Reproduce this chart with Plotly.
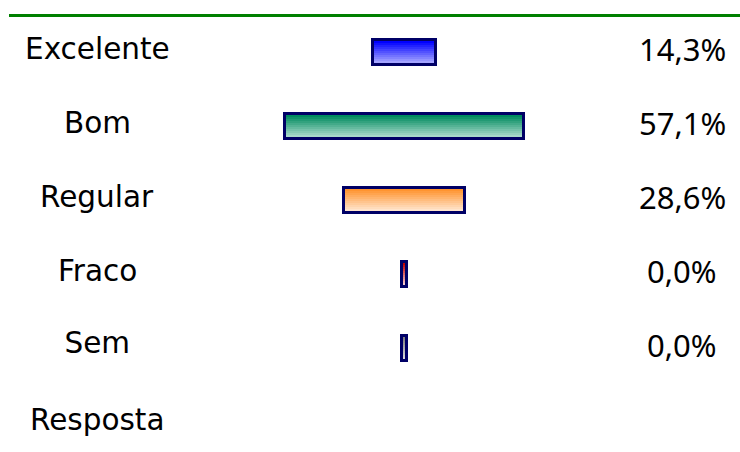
import plotly.graph_objects as go

categories = ["Excelente", "Bom", "Regular", "Fraco", "Sem Resposta"]
values = [14.3, 57.1, 28.6, 0.0, 0.0]
top_colors = ["#0000FF", "#008A5E", "#FF9430", "#C00000", "#808080"]
bottom_colors = ["#A4A4FF", "#A8DACA", "#FFE4CC", "#F4C8C8", "#D8D8D8"]

def hex2rgb(h):
    h = h.lstrip("#")
    return tuple(int(h[i:i + 2], 16) for i in (0, 2, 4))

def mix(c1, c2, t):
    a, b = hex2rgb(c1), hex2rgb(c2)
    return "rgb(%d,%d,%d)" % tuple(round(a[i] + (b[i] - a[i]) * t) for i in range(3))

rows = list(range(len(categories)))
disp = [max(v, 0.6) for v in values]
bases = [-d / 2 for d in disp]

SCALE = 4.15
H = 22 / 74.0
fig = go.Figure()

# navy frame
fig.add_trace(go.Bar(
    y=rows, x=disp, base=bases, orientation="h", width=H,
    marker=dict(color="#000066", line=dict(color="#000066", width=6)),
    hoverinfo="skip", showlegend=False,
))

N = 11
sh = H / N
for k in range(N):
    t = k / (N - 1)
    fig.add_trace(go.Bar(
        y=rows, x=disp, base=bases, orientation="h",
        width=sh * 1.2, offset=-H / 2 + k * sh,
        marker=dict(color=[mix(top_colors[i], bottom_colors[i], t) for i in rows],
                    line=dict(width=0)),
        hoverinfo="skip", showlegend=False,
    ))

label_x = (97 - 404) / SCALE
pct_x = (682 - 404) / SCALE
for i, (c, v) in enumerate(zip(categories, values)):
    multi = " " in c
    txt = c.replace(" ", "<br><br>")
    ypos = i + (0.5 if multi else 0)
    fig.add_annotation(x=label_x, y=ypos, text=txt, showarrow=False,
                       xanchor="center", yanchor="middle", yshift=4 if multi else 3,
                       font=dict(family="DejaVu Sans", size=29.5, color="black"))
    fig.add_annotation(x=pct_x, y=i, text=f"{v:.1f}".replace(".", ",") + "%",
                       showarrow=False, xanchor="center", yanchor="middle", yshift=3,
                       font=dict(family="Noto Sans", size=31, color="black"))

fig.add_shape(type="line", xref="paper", yref="paper",
              x0=9 / 740, x1=1, y0=1 - 15.5 / 452, y1=1 - 15.5 / 452,
              line=dict(color="#008000", width=3))

fig.update_layout(
    width=740, height=452, barmode="overlay",
    margin=dict(l=0, r=0, t=0, b=0),
    paper_bgcolor="white", plot_bgcolor="white",
    xaxis=dict(range=[-404 / SCALE, 336 / SCALE], visible=False, fixedrange=True),
    yaxis=dict(range=[(452 - 52) / 74, -52 / 74], visible=False, fixedrange=True),
    bargap=0,
)

fig.write_html("out.html", config={"displayModeBar": False},
               post_script="document.body.style.margin='0px';")
